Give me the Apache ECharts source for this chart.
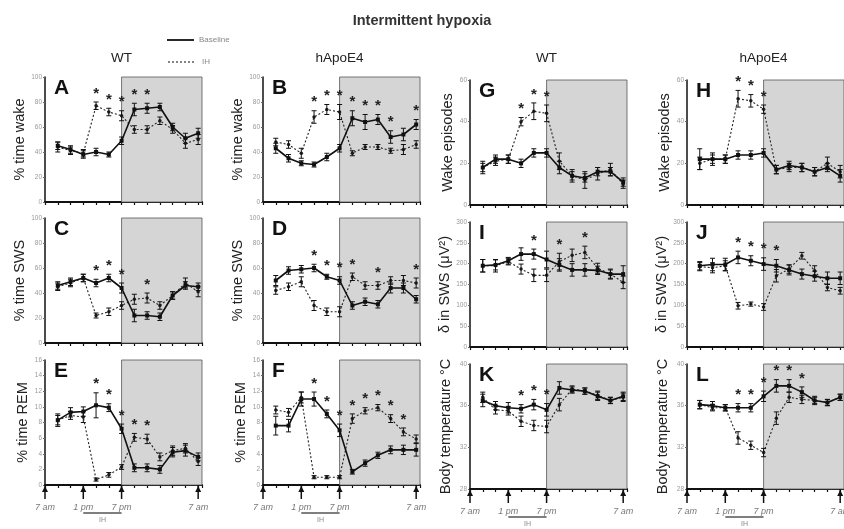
<!DOCTYPE html>
<html>
<head>
<meta charset="utf-8">
<script src="https://cdn.jsdelivr.net/npm/echarts@6/dist/echarts.min.js"></script>
<style>
  html, body { margin: 0; padding: 0; background: #fff; }
  #chart { width: 844px; height: 529px; }
</style>
</head>
<body>
<div id="chart"></div>
<script>
// hours after 7 am, one point every 2 h
const hours = [2, 4, 6, 8, 10, 12, 14, 16, 18, 20, 22, 24];
const majorTicks = [0, 6, 12, 24];
const tickNames = { 0: '7 am', 6: '1 pm', 12: '7 pm', 24: '7 am' };

// % time wake
const A_base = [45, 42, 38, 40, 38, 49, 74, 75, 76, 60, 51, 55];
const A_ih = [44, 41, 39, 77, 72, 69, 58, 58, 65, 58, 47, 50];
const A_baseErr = [3, 3, 3, 3, 2, 3, 5, 4, 3, 3, 4, 4];
const A_ihErr = [4, 3, 3, 3, 3, 4, 3, 3, 3, 3, 4, 4];
const B_base = [43, 35, 31, 30, 36, 43, 67, 64, 66, 52, 54, 62];
const B_ih = [48, 46, 39, 68, 74, 72, 39, 44, 44, 41, 42, 46];
const B_baseErr = [4, 3, 2, 2, 3, 3, 6, 6, 4, 5, 5, 4];
const B_ihErr = [3, 3, 4, 5, 4, 6, 2, 2, 2, 2, 4, 3];
// % time SWS
const C_base = [46, 49, 52, 48, 52, 44, 22, 22, 21, 38, 46, 45];
const C_ih = [45, 48, 52, 22, 25, 30, 35, 36, 30, 38, 48, 41];
const C_baseErr = [3, 3, 3, 3, 3, 4, 5, 3, 3, 3, 3, 3];
const C_ihErr = [3, 3, 3, 2, 3, 3, 4, 4, 3, 3, 4, 4];
const D_base = [50, 58, 59, 60, 53, 50, 30, 33, 31, 44, 44, 35];
const D_ih = [42, 45, 49, 30, 25, 25, 53, 46, 46, 50, 50, 48];
const D_baseErr = [4, 3, 3, 3, 2, 3, 3, 3, 3, 4, 4, 3];
const D_ihErr = [3, 3, 4, 4, 3, 4, 3, 3, 3, 3, 4, 4];
// % time REM
const E_base = [8.3, 9.3, 9.4, 10.2, 9.9, 7.2, 2.2, 2.2, 2.0, 4.2, 4.4, 3.6];
const E_ih = [8.3, 8.9, 8.7, 0.7, 1.3, 2.3, 6.1, 5.9, 3.6, 4.4, 4.7, 3.0];
const E_baseErr = [0.8, 0.6, 0.6, 1.6, 0.5, 0.6, 0.5, 0.5, 0.5, 0.6, 0.7, 0.5];
const E_ihErr = [0.6, 0.5, 0.7, 0.2, 0.3, 0.3, 0.5, 0.6, 0.5, 0.6, 0.6, 0.5];
const F_base = [7.6, 7.6, 11.0, 11.0, 9.1, 7.0, 1.7, 2.8, 3.8, 4.5, 4.5, 4.5];
const F_ih = [9.6, 9.3, 11.2, 1.0, 1.0, 1.0, 8.5, 9.5, 9.9, 8.5, 6.8, 5.9];
const F_baseErr = [1.2, 0.8, 0.9, 0.9, 0.5, 0.8, 0.3, 0.4, 0.4, 0.5, 0.6, 0.8];
const F_ihErr = [0.5, 0.5, 0.7, 0.2, 0.2, 0.2, 0.6, 0.4, 0.4, 0.5, 0.5, 0.5];
// wake episodes
const G_base = [18, 22, 22, 20, 25, 25, 18, 14, 13, 16, 16, 11];
const G_ih = [18, 21, 22, 40, 45, 44, 21, 14, 12, 15, 17, 10];
const G_baseErr = [3, 2, 2, 2, 2, 2, 3, 2, 2, 2, 2, 2];
const G_ihErr = [2, 2, 2, 2, 4, 4, 4, 3, 4, 3, 3, 2];
const H_base = [22, 22, 22, 24, 24, 25, 17, 19, 18, 16, 18, 14];
const H_ih = [20, 22, 22, 51, 50, 46, 17, 18, 18, 16, 20, 16];
const H_baseErr = [5, 3, 2, 2, 2, 2, 2, 2, 2, 2, 2, 3];
const H_ihErr = [3, 2, 2, 4, 3, 2, 2, 2, 2, 2, 3, 3];
// delta power in SWS
const I_base = [195, 197, 207, 223, 223, 210, 197, 185, 185, 184, 175, 175];
const I_ih = [195, 195, 205, 187, 172, 172, 205, 220, 227, 189, 175, 155];
const I_baseErr = [15, 12, 8, 15, 12, 20, 15, 15, 15, 10, 12, 20];
const I_ihErr = [15, 15, 8, 12, 15, 15, 20, 15, 15, 12, 10, 15];
const J_base = [195, 198, 198, 215, 207, 199, 195, 185, 175, 170, 165, 165];
const J_ih = [193, 190, 195, 99, 103, 96, 171, 187, 219, 183, 143, 135];
const J_baseErr = [10, 15, 15, 15, 12, 15, 15, 12, 12, 12, 15, 15];
const J_ihErr = [10, 12, 12, 8, 5, 8, 15, 10, 8, 12, 8, 8];
// body temperature
const K_base = [36.5, 36.0, 35.8, 35.7, 36.1, 35.6, 37.7, 37.5, 37.4, 36.9, 36.5, 36.9];
const K_ih = [36.8, 35.6, 35.5, 34.5, 34.1, 34.0, 36.1, 37.6, 37.4, 37.0, 36.5, 36.8];
const K_baseErr = [0.6, 0.4, 0.5, 0.4, 0.5, 0.6, 0.6, 0.3, 0.3, 0.4, 0.3, 0.4];
const K_ihErr = [0.5, 0.4, 0.4, 0.5, 0.5, 0.6, 0.6, 0.3, 0.3, 0.4, 0.3, 0.4];
const L_base = [36.1, 36.0, 35.8, 35.8, 35.8, 36.9, 37.9, 37.9, 37.3, 36.5, 36.3, 36.8];
const L_ih = [36.1, 35.8, 35.8, 32.9, 32.2, 31.5, 34.8, 36.8, 36.6, 36.5, 36.3, 36.8];
const L_baseErr = [0.4, 0.4, 0.3, 0.4, 0.4, 0.5, 0.6, 0.6, 0.5, 0.4, 0.3, 0.3];
const L_ihErr = [0.4, 0.3, 0.3, 0.6, 0.4, 0.4, 0.6, 0.5, 0.4, 0.3, 0.3, 0.3];

// indices of points marked significant (*)
const A_stars = [3, 4, 5, 6, 7];
const B_stars = [3, 4, 5, 6, 7, 8, 9, 11];
const C_stars = [3, 4, 5, 7];
const D_stars = [3, 4, 5, 6, 8, 11];
const E_stars = [3, 4, 5, 6, 7];
const F_stars = [3, 4, 5, 6, 7, 8, 9, 10];
const G_stars = [3, 4, 5];
const H_stars = [3, 4, 5];
const I_stars = [4, 6, 8];
const J_stars = [3, 4, 5, 6];
const K_stars = [3, 4, 5];
const L_stars = [3, 4, 5, 6, 7, 8];

const panels = [
  { id: 'A', col: 0, row: 0, base: A_base, ih: A_ih, be: A_baseErr, ie: A_ihErr, stars: A_stars, min: 0, max: 100, step: 20, name: '% time wake' },
  { id: 'B', col: 1, row: 0, base: B_base, ih: B_ih, be: B_baseErr, ie: B_ihErr, stars: B_stars, min: 0, max: 100, step: 20, name: '% time wake' },
  { id: 'C', col: 0, row: 1, base: C_base, ih: C_ih, be: C_baseErr, ie: C_ihErr, stars: C_stars, min: 0, max: 100, step: 20, name: '% time SWS' },
  { id: 'D', col: 1, row: 1, base: D_base, ih: D_ih, be: D_baseErr, ie: D_ihErr, stars: D_stars, min: 0, max: 100, step: 20, name: '% time SWS' },
  { id: 'E', col: 0, row: 2, base: E_base, ih: E_ih, be: E_baseErr, ie: E_ihErr, stars: E_stars, min: 0, max: 16, step: 2, name: '% time REM' },
  { id: 'F', col: 1, row: 2, base: F_base, ih: F_ih, be: F_baseErr, ie: F_ihErr, stars: F_stars, min: 0, max: 16, step: 2, name: '% time REM' },
  { id: 'G', col: 2, row: 0, base: G_base, ih: G_ih, be: G_baseErr, ie: G_ihErr, stars: G_stars, min: 0, max: 60, step: 20, name: 'Wake episodes' },
  { id: 'H', col: 3, row: 0, base: H_base, ih: H_ih, be: H_baseErr, ie: H_ihErr, stars: H_stars, min: 0, max: 60, step: 20, name: 'Wake episodes' },
  { id: 'I', col: 2, row: 1, base: I_base, ih: I_ih, be: I_baseErr, ie: I_ihErr, stars: I_stars, min: 0, max: 300, step: 50, name: 'δ in SWS (μV²)' },
  { id: 'J', col: 3, row: 1, base: J_base, ih: J_ih, be: J_baseErr, ie: J_ihErr, stars: J_stars, min: 0, max: 300, step: 50, name: 'δ in SWS (μV²)' },
  { id: 'K', col: 2, row: 2, base: K_base, ih: K_ih, be: K_baseErr, ie: K_ihErr, stars: K_stars, min: 28, max: 40, step: 4, name: 'Body temperature °C' },
  { id: 'L', col: 3, row: 2, base: L_base, ih: L_ih, be: L_baseErr, ie: L_ihErr, stars: L_stars, min: 28, max: 40, step: 4, name: 'Body temperature °C' }
];

const FONT = 'Liberation Sans, Arial, sans-serif';
const X_MAX = 24.6;
const colLeft = [45, 263, 470, 687];
const rowTopL = [77, 218, 360];
const rowTopR = [80, 222, 364];
const GW = 157, GH = 125;

const chart = echarts.init(document.getElementById('chart'));

const grids = [], xAxes = [], yAxes = [], series = [], graphics = [];

function errRender(params, api) {
  const x = api.value(0), v = api.value(1), e = api.value(2);
  const t = api.coord([x, v + e]);
  const b = api.coord([x, v - e]);
  const st = { stroke: '#111', lineWidth: 1 };
  return {
    type: 'group',
    children: [
      { type: 'line', shape: { x1: t[0], y1: t[1], x2: b[0], y2: b[1] }, style: st },
      { type: 'line', shape: { x1: t[0] - 2.5, y1: t[1], x2: t[0] + 2.5, y2: t[1] }, style: st },
      { type: 'line', shape: { x1: b[0] - 2.5, y1: b[1], x2: b[0] + 2.5, y2: b[1] }, style: st }
    ]
  };
}

function starRender(params, api) {
  const p = api.coord([api.value(0), api.value(1)]);
  return {
    type: 'text',
    style: { text: '*', x: p[0], y: p[1] - 1, textAlign: 'center', textVerticalAlign: 'bottom',
      font: 'bold 15px ' + FONT, fill: '#222' }
  };
}

function arrowRender(params, api) {
  const p = api.coord([api.value(0), api.value(1)]);
  return {
    type: 'group',
    children: [
      { type: 'line', shape: { x1: p[0], y1: p[1], x2: p[0], y2: p[1] + 14 }, style: { stroke: '#111', lineWidth: 1.5 } },
      { type: 'polygon', shape: { points: [[p[0], p[1] + 1], [p[0] - 3, p[1] + 7], [p[0] + 3, p[1] + 7]] }, style: { fill: '#111' } }
    ]
  };
}

panels.forEach((p, i) => {
  const left = colLeft[p.col];
  const top = p.col < 2 ? rowTopL[p.row] : rowTopR[p.row];
  const bottomRow = p.row === 2;
  grids.push({ left: left, top: top, width: GW, height: GH, containLabel: false, outerBoundsMode: 'none' });
  xAxes.push({
    gridIndex: i, type: 'value', min: 0, max: X_MAX, interval: 2,
    axisLine: { onZero: false, lineStyle: { color: '#111', width: 2 } },
    axisTick: { show: true, length: 3, lineStyle: { color: '#111', width: 1.2 } },
    splitLine: { show: false },
    axisLabel: {
      show: bottomRow, margin: 18, fontSize: 9, fontStyle: 'italic', color: '#777', fontFamily: FONT,
      showMaxLabel: true, showMinLabel: true, hideOverlap: false,
      formatter: v => tickNames[v] || ''
    }
  });
  yAxes.push({
    gridIndex: i, type: 'value', min: p.min, max: p.max, interval: p.step,
    name: p.name, nameLocation: 'middle', nameGap: p.row === 2 && p.col >= 2 ? 17 : 13,
    nameTextStyle: { fontSize: 14.5, color: '#222', fontFamily: FONT },
    axisLine: { show: true, onZero: false, lineStyle: { color: '#111', width: 1.5 } },
    axisTick: { show: true, length: 2, lineStyle: { color: '#666' } },
    splitLine: { show: false },
    axisLabel: { fontSize: 6.5, color: '#999', margin: 3, fontFamily: FONT }
  });

  const baseData = hours.map((h, k) => [h, p.base[k]]);
  const ihData = hours.map((h, k) => [h, p.ih[k]]);
  series.push({
    type: 'line', xAxisIndex: i, yAxisIndex: i, name: 'Baseline', data: baseData,
    symbol: 'rect', symbolSize: 4, itemStyle: { color: '#111' },
    lineStyle: { color: '#111', width: 1.6 }, z: 4,
    markArea: {
      silent: true,
      itemStyle: { color: '#d5d5d5', borderColor: '#555', borderWidth: 0.8 },
      data: [[{ xAxis: 12, yAxis: p.min }, { xAxis: X_MAX, yAxis: p.max }]]
    }
  });
  series.push({
    type: 'line', xAxisIndex: i, yAxisIndex: i, name: 'IH', data: ihData,
    symbol: 'circle', symbolSize: 3.5, itemStyle: { color: '#222' },
    lineStyle: { color: '#222', width: 1.1, type: [2, 2] }, z: 3
  });
  series.push({
    type: 'custom', xAxisIndex: i, yAxisIndex: i, renderItem: errRender, silent: true, z: 5,
    data: hours.map((h, k) => [h, p.base[k], p.be[k]]).concat(hours.map((h, k) => [h, p.ih[k], p.ie[k]]))
  });
  series.push({
    type: 'custom', xAxisIndex: i, yAxisIndex: i, renderItem: starRender, silent: true, z: 6,
    data: p.stars.map(k => [hours[k], Math.max(p.base[k] + p.be[k], p.ih[k] + p.ie[k])])
  });
  if (bottomRow) {
    series.push({
      type: 'custom', xAxisIndex: i, yAxisIndex: i, renderItem: arrowRender, silent: true, z: 6,
      data: majorTicks.map(t => [t, p.min])
    });
  }
  graphics.push({
    type: 'text', left: left + 9, top: top + 1,
    style: { text: p.id, font: 'bold 21px ' + FONT, fill: '#111' }
  });
});

// headers
const colTitles = ['WT', 'hApoE4', 'WT', 'hApoE4'];
colTitles.forEach((t, c) => {
  graphics.push({
    type: 'text', x: colLeft[c] + GW / 2 - 2, y: 58,
    style: { text: t, font: '13.5px ' + FONT, fill: '#222', textAlign: 'center', textVerticalAlign: 'middle' }
  });
});
graphics.push({
  type: 'text', x: 422, y: 21,
  style: { text: 'Intermittent hypoxia', font: 'bold 14.5px ' + FONT, fill: '#333', textAlign: 'center', textVerticalAlign: 'middle' }
});
// legend
graphics.push({ type: 'line', shape: { x1: 167, y1: 40, x2: 194, y2: 40 }, style: { stroke: '#111', lineWidth: 1.8 } });
graphics.push({ type: 'text', x: 199, y: 40, style: { text: 'Baseline', font: '8px ' + FONT, fill: '#888', textVerticalAlign: 'middle' } });
graphics.push({ type: 'line', shape: { x1: 168, y1: 62, x2: 196, y2: 62 }, style: { stroke: '#222', lineWidth: 1.1, lineDash: [2, 2] } });
graphics.push({ type: 'text', x: 202, y: 62, style: { text: 'IH', font: '8px ' + FONT, fill: '#888', textVerticalAlign: 'middle' } });

chart.setOption({
  animation: false,
  backgroundColor: '#fff',
  grid: grids, xAxis: xAxes, yAxis: yAxes, series: series
});

// IH exposure bar under the bottom row (1 pm to 7 pm)
panels.forEach((p, i) => {
  if (p.row !== 2) return;
  const a = chart.convertToPixel({ gridIndex: i }, [6, p.min]);
  const b = chart.convertToPixel({ gridIndex: i }, [12, p.min]);
  const y = a[1] + 28;
  graphics.push({ type: 'line', shape: { x1: a[0], y1: y, x2: b[0], y2: y }, style: { stroke: '#555', lineWidth: 1.5 } });
  graphics.push({ type: 'text', x: (a[0] + b[0]) / 2, y: y + 7,
    style: { text: 'IH', font: '7px ' + FONT, fill: '#888', textAlign: 'center', textVerticalAlign: 'middle' } });
});

chart.setOption({ graphic: graphics });
</script>
</body>
</html>
